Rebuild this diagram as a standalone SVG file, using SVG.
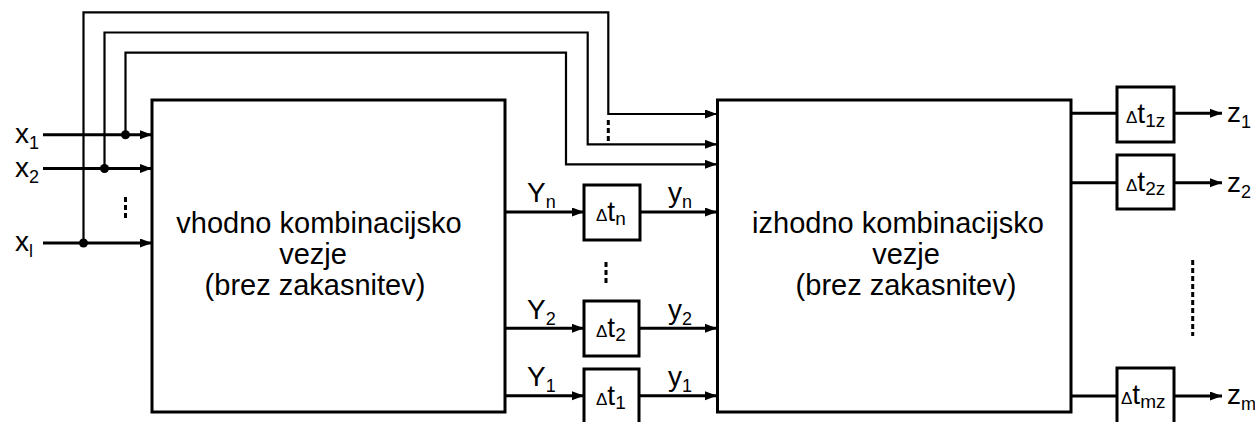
<svg xmlns="http://www.w3.org/2000/svg" width="1255" height="422" viewBox="0 0 1255 422">
<style>
.box{fill:#fff;stroke:#000;stroke-width:3}
.w{fill:none;stroke:#000;stroke-width:3}
.t{fill:none;stroke:#000;stroke-width:2.2}
.d{fill:none;stroke:#000;stroke-width:3;stroke-dasharray:5,3}
text{font-family:"Liberation Sans",Arial,sans-serif;fill:#000}
.big{font-size:29px}
.lb{font-size:28px}
.sub{font-size:18px}
.dsub{font-size:19px}
.dl{font-size:17px}
</style>
<defs>
<marker id="arr" markerUnits="userSpaceOnUse" markerWidth="13" markerHeight="10" refX="12" refY="4.5" orient="auto">
<path d="M0,0 L12,4.5 L0,9 z" fill="#000"/>
</marker>
</defs>
<rect width="1255" height="422" fill="#fff"/>
<g id="connectors">
<path class="w" d="M43,134.7 H152" marker-end="url(#arr)"/>
<path class="w" d="M43,168.5 H152" marker-end="url(#arr)"/>
<path class="w" d="M43,243 H152" marker-end="url(#arr)"/>
<path class="t" d="M125.5,134.7 V52.7 H566 V164.3 H717" marker-end="url(#arr)"/>
<path class="t" d="M104.5,168.5 V32.5 H587.7 V144.3 H717" marker-end="url(#arr)"/>
<path class="t" d="M83.5,243 V12.3 H608.3 V114 H717" marker-end="url(#arr)"/>
<circle cx="125.5" cy="134.7" r="4.5"/>
<circle cx="104.5" cy="168.5" r="4.5"/>
<circle cx="83.5" cy="243" r="4.5"/>
<path class="d" d="M125.5,197 V218"/>
<path class="d" d="M608.3,120 V142"/>
<path class="d" d="M606,262 V284"/>
<path class="d" d="M1192.7,260 V336"/>
<path class="w" d="M505,212 H584" marker-end="url(#arr)"/>
<path class="w" d="M640,212 H717" marker-end="url(#arr)"/>
<path class="w" d="M505,328.3 H584" marker-end="url(#arr)"/>
<path class="w" d="M639,328.3 H717" marker-end="url(#arr)"/>
<path class="w" d="M505,395.7 H584" marker-end="url(#arr)"/>
<path class="w" d="M639,395.7 H717" marker-end="url(#arr)"/>
<path class="w" d="M1071,113.3 H1117"/>
<path class="w" d="M1174,113.3 H1222" marker-end="url(#arr)"/>
<path class="w" d="M1071,182.7 H1117"/>
<path class="w" d="M1174,182.7 H1222" marker-end="url(#arr)"/>
<path class="w" d="M1071,396 H1117"/>
<path class="w" d="M1174,396 H1222" marker-end="url(#arr)"/>
</g>
<g id="inputs">
<text class="lb" x="15" y="143">x<tspan class="sub" dy="6">1</tspan></text>
<text class="lb" x="15" y="177">x<tspan class="sub" dy="6">2</tspan></text>
<text class="lb" x="15" y="251">x<tspan class="sub" dy="6">l</tspan></text>
</g>
<g id="vhodno">
<rect class="box" x="152" y="100" width="353" height="312"/>
<text class="big" text-anchor="middle" x="319" y="233">vhodno kombinacijsko</text>
<text class="big" text-anchor="middle" x="313" y="264">vezje</text>
<text class="big" text-anchor="middle" x="315" y="295">(brez zakasnitev)</text>
</g>
<g id="izhodno">
<rect class="box" x="717.5" y="100" width="353.5" height="312"/>
<text class="big" text-anchor="middle" x="898" y="233">izhodno kombinacijsko</text>
<text class="big" text-anchor="middle" x="906" y="264">vezje</text>
<text class="big" text-anchor="middle" x="906" y="295">(brez zakasnitev)</text>
</g>
<g id="dtn">
<rect class="box" x="584" y="185" width="56" height="55"/>
<text x="596" y="221"><tspan class="dl">Δ</tspan><tspan class="lb">t</tspan><tspan class="dsub" dy="4">n</tspan></text>
</g>
<g id="dt2">
<rect class="box" x="584" y="301" width="55" height="55"/>
<text x="596" y="337"><tspan class="dl">Δ</tspan><tspan class="lb">t</tspan><tspan class="dsub" dy="4">2</tspan></text>
</g>
<g id="dt1">
<rect class="box" x="584" y="369" width="55" height="56"/>
<text x="596" y="405"><tspan class="dl">Δ</tspan><tspan class="lb">t</tspan><tspan class="dsub" dy="4">1</tspan></text>
</g>
<g id="labels">
<text class="lb" x="527" y="202">Y<tspan class="sub" dy="6">n</tspan></text>
<text class="lb" x="668" y="202">y<tspan class="sub" dy="6">n</tspan></text>
<text class="lb" x="527" y="319">Y<tspan class="sub" dy="6">2</tspan></text>
<text class="lb" x="668" y="319">y<tspan class="sub" dy="6">2</tspan></text>
<text class="lb" x="527" y="386">Y<tspan class="sub" dy="6">1</tspan></text>
<text class="lb" x="668" y="386">y<tspan class="sub" dy="6">1</tspan></text>
</g>
<g id="dt1z">
<rect class="box" x="1117" y="87" width="57" height="55"/>
<text x="1126" y="123"><tspan class="dl">Δ</tspan><tspan class="lb">t</tspan><tspan class="dsub" dy="4">1z</tspan></text>
</g>
<g id="dt2z">
<rect class="box" x="1117" y="155" width="57" height="54"/>
<text x="1126" y="191"><tspan class="dl">Δ</tspan><tspan class="lb">t</tspan><tspan class="dsub" dy="4">2z</tspan></text>
</g>
<g id="dtmz">
<rect class="box" x="1117" y="368" width="57" height="56"/>
<text x="1121" y="404"><tspan class="dl">Δ</tspan><tspan class="lb">t</tspan><tspan class="dsub" dy="4">mz</tspan></text>
</g>
<g id="outputs">
<text class="lb" x="1227" y="122">z<tspan class="sub" dy="6">1</tspan></text>
<text class="lb" x="1227" y="192">z<tspan class="sub" dy="6">2</tspan></text>
<text class="lb" x="1227" y="404">z<tspan class="sub" dy="6">m</tspan></text>
</g>
</svg>
